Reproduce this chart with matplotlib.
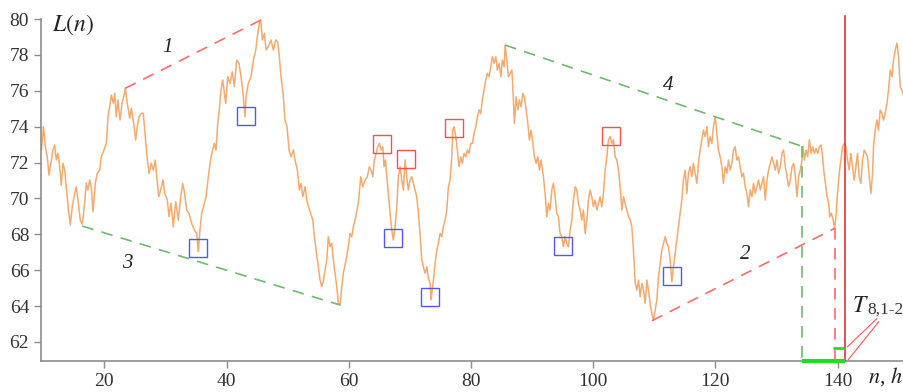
import matplotlib
matplotlib.use('Agg')
import matplotlib.pyplot as plt

# level trace L(n), hours n
hours = [9.72, 10.05, 10.34, 10.67, 10.95, 11.33, 11.60, 11.88, 12.14, 12.42, 12.70, 12.96,
         13.24, 13.52, 13.78, 14.17, 14.44, 14.76, 15.16, 15.42, 15.70, 16.07, 16.40, 16.79,
         17.05, 17.33, 17.61, 17.87, 18.15, 18.53, 18.85, 19.25, 19.51, 19.95, 20.33, 20.61,
         20.88, 21.15, 21.47, 21.70, 21.96, 22.24, 22.57, 22.90, 23.18, 23.44, 23.76, 24.16,
         24.42, 24.81, 25.14, 25.40, 25.68, 26.06, 26.38, 26.61, 26.99, 27.32, 27.69, 28.02,
         28.35, 28.58, 28.90, 29.23, 29.61, 29.89, 30.31,
         30.59, 30.92, 31.29, 31.69, 32.11, 32.50, 32.83, 33.09, 33.49, 33.86, 34.30, 34.73,
         35.12, 35.38, 35.66, 35.94, 36.37, 36.65, 37.02, 37.46, 37.74, 38.00, 38.28, 38.56,
         38.82, 39.10, 39.38, 39.64, 39.87, 40.20, 40.57, 40.95, 41.28, 41.67, 42.05, 42.37,
         42.65, 43.03, 43.19, 43.57, 44.01, 44.39, 44.78, 45.11, 45.37, 45.60, 45.86, 46.19,
         46.47, 46.84, 47.28, 47.66, 48.05, 48.38, 48.64, 48.92, 49.30, 49.57, 49.90, 50.23,
         50.56, 50.93, 51.21,
         51.59, 51.91, 52.19, 52.47, 52.85, 53.13, 53.39, 53.78, 54.11, 54.33, 54.65, 55.03,
         55.30, 55.58, 55.84, 56.12, 56.40, 56.66, 56.94, 57.22, 57.48, 57.76, 58.04, 58.30,
         58.58, 58.85, 59.12, 59.56, 59.93, 60.21, 60.49, 60.75, 61.15, 61.57, 61.96, 62.29,
         62.67, 63.04, 63.37, 63.65, 63.93, 64.19, 64.47, 64.75, 65.01, 65.29, 65.57, 65.78,
         66.00, 66.23, 66.48, 66.76, 67.04, 67.30, 67.58, 67.86, 68.12, 68.40, 68.67, 68.94,
         69.21, 69.49, 69.75, 70.03, 70.31, 70.57, 70.85,
         71.13, 71.39, 71.67, 71.95, 72.21, 72.49, 72.77, 73.03, 73.31, 73.47, 73.85, 74.13,
         74.41, 74.67, 74.95, 75.22, 75.48, 75.76, 76.04, 76.30, 76.58, 76.86, 77.02, 77.23,
         77.51, 77.77, 78.05, 78.33, 78.59, 78.87, 79.15, 79.41, 79.69, 79.97, 80.23, 80.51,
         80.79, 81.05, 81.33, 81.60, 81.87, 82.14, 82.42, 82.68, 82.96, 83.24, 83.50, 83.78,
         84.06, 84.32, 84.60, 84.88, 85.14, 85.42, 85.58, 85.86, 86.12, 86.40, 86.68, 86.84,
         87.10, 87.38, 87.66, 87.92, 88.20, 88.48, 88.74, 89.02, 89.30, 89.56, 89.84, 90.12,
         90.38, 90.66, 90.93, 91.19,
         91.47, 91.85, 92.13, 92.40, 92.67, 92.95, 93.22, 93.49, 93.77, 94.04, 94.30, 94.58,
         94.86, 95.12, 95.40, 95.68, 95.94, 96.22, 96.50, 96.76, 97.04, 97.32, 97.58, 97.86,
         98.14, 98.40, 98.68, 98.96, 99.22, 99.49, 99.77, 100.03, 100.31, 100.59, 100.85, 101.13,
         101.41, 101.67, 101.95, 102.23, 102.49, 102.77, 103.05, 103.31, 103.59, 103.87, 104.13,
         104.41, 104.69, 104.95, 105.22, 105.50, 105.77, 106.05, 106.32, 106.59, 106.87, 107.14,
         107.41, 107.68, 107.96, 108.22, 108.50, 108.78, 109.04, 109.31, 109.59, 109.86, 110.14,
         110.41, 110.68, 110.96, 111.23, 111.50, 111.78,
         112.04, 112.31, 112.59, 112.87, 113.13, 113.40, 113.68, 113.95, 114.22, 114.50, 114.76,
         115.04, 115.32, 115.58, 115.86, 116.14, 116.40, 116.68, 116.96, 117.22, 117.49, 117.77,
         118.04, 118.31, 118.59, 118.85, 119.13, 119.41, 119.67, 119.95, 120.23, 120.49, 120.77,
         121.05, 121.31, 121.59, 121.87, 122.13, 122.41, 122.69, 122.95, 123.23, 123.51, 123.77,
         124.05, 124.33, 124.59, 124.87, 125.15, 125.41, 125.69, 125.97, 126.23, 126.51, 126.79,
         127.05, 127.33, 127.61, 127.87, 128.15, 128.43, 128.69, 128.97, 129.25, 129.51, 129.79,
         130.07, 130.33, 130.61, 130.89, 131.15, 131.43, 131.71, 131.97, 132.25, 132.53, 132.79,
         133.06, 133.34, 133.61, 133.88, 134.16, 134.33,
         134.55, 134.83, 135.09, 135.37, 135.65, 135.91, 136.19, 136.47, 136.73, 137.01, 137.29,
         137.55, 137.71, 137.99, 138.27, 138.53, 138.69, 138.97, 139.25, 139.51, 139.76, 139.97,
         140.25, 140.53, 140.79, 141.07, 141.35, 141.61, 141.88, 142.16, 142.42, 142.70, 142.98,
         143.24, 143.52, 143.80, 144.06, 144.34, 144.62, 144.88, 145.16, 145.44, 145.70, 145.86,
         146.14, 146.42, 146.68, 146.96, 147.24, 147.50, 147.78, 148.06, 148.32, 148.60, 148.88,
         149.14, 149.42, 149.69, 149.96, 150.23, 150.51, 150.84]

level = [72.70, 74.00, 72.88, 72.32, 71.30, 72.14, 72.70, 72.98, 72.14, 72.51, 71.77, 70.75,
         71.96, 71.58, 70.58, 69.26, 68.52, 69.54, 70.30, 70.65, 69.91, 68.80, 68.56, 69.74,
         70.85, 70.47, 71.03, 70.65, 69.26, 70.84, 71.40, 71.58, 72.32, 72.70, 73.07, 74.55,
         75.11, 75.76, 75.30, 75.86, 74.55, 75.49, 74.37, 75.30, 75.67, 76.14, 75.30, 74.47,
         75.02, 74.19, 73.26, 74.00, 74.55, 74.74, 74.74, 73.81, 72.32, 71.40, 71.96, 71.58,
         72.14, 71.21, 70.09, 70.47, 71.03, 70.28, 69.91,
         68.98, 69.73, 68.42, 69.82, 68.80, 70.09, 70.84, 70.37, 69.35, 69.17, 68.61, 68.24,
         68.05, 67.03, 68.24, 69.17, 69.73, 70.09, 71.21, 72.32, 72.70, 73.07, 72.70, 74.19,
         74.93, 76.04, 76.60, 75.86, 75.30, 76.78, 76.42, 77.06, 76.23, 77.71, 77.53, 76.78,
         76.04, 74.55, 75.67, 76.42, 76.78, 77.71, 78.27, 79.20, 79.76, 79.94, 78.83, 79.20,
         78.27, 78.46, 78.83, 78.27, 78.83, 78.73, 77.90, 76.78, 75.67, 74.37, 74.00, 72.70,
         72.32, 72.70, 72.14,
         71.58, 70.47, 70.84, 70.09, 70.65, 69.91, 69.54, 69.17, 68.80, 68.05, 67.12, 66.19,
         65.45, 65.08, 65.36, 66.01, 66.57, 67.87, 67.31, 67.50, 66.57, 65.83, 65.08, 64.15,
         64.06, 65.08, 65.83, 66.57, 67.31, 68.05, 67.87, 68.42, 68.98, 69.73, 71.21, 70.65,
         71.03, 71.21, 71.77, 71.58, 71.21, 72.14, 72.51, 72.88, 73.07, 72.70, 72.88, 71.77,
         72.14, 71.21, 70.28, 69.17, 68.24, 67.68, 68.42, 69.54, 71.21, 71.77, 71.03, 70.47,
         72.14, 71.21, 70.47, 71.03, 71.21, 70.84, 70.47,
         70.09, 69.17, 68.05, 66.57, 66.19, 65.83, 66.19, 65.55, 65.27, 64.34, 65.45, 66.38,
         67.12, 67.50, 68.05, 67.87, 68.42, 68.80, 69.35, 70.65, 71.03, 72.32, 73.81, 74.00,
         73.44, 72.70, 71.77, 72.32, 71.96, 72.51, 72.32, 72.70, 72.51, 73.07, 73.07, 73.63,
         74.00, 74.55, 74.93, 74.74, 75.49, 76.04, 76.60, 76.97, 76.78, 77.34, 77.90, 77.53,
         77.90, 77.16, 77.53, 76.78, 77.71, 77.34, 78.55, 77.71, 76.78, 76.97, 77.16, 76.23,
         74.19, 75.67, 74.93, 75.49, 75.11, 75.86, 75.67, 74.93, 74.19, 73.26, 73.81, 73.07,
         72.32, 71.96, 72.32, 71.58,
         72.14, 71.21, 70.28, 68.98, 69.73, 69.35, 70.47, 70.84, 70.09, 69.17, 68.98, 68.05,
         67.87, 67.31, 67.87, 67.50, 67.31, 68.24, 68.80, 69.91, 70.65, 70.47, 69.73, 69.35,
         68.80, 69.35, 68.05, 68.80, 69.91, 70.47, 70.09, 69.54, 69.91, 69.35, 69.73, 70.09,
         69.54, 70.28, 71.58, 72.32, 73.26, 73.44, 73.07, 73.26, 72.32, 72.14, 71.58,
         70.65, 69.35, 70.09, 69.73, 69.35, 68.98, 68.80, 68.42, 67.12, 65.27, 64.89,
         65.45, 64.52, 65.27, 64.89, 64.15, 65.45, 64.89, 64.15, 63.60, 63.22, 63.78,
         64.34, 65.64, 66.38, 67.12, 67.50, 67.87,
         67.50, 67.31, 66.57, 65.35, 66.19, 66.94, 67.68, 68.42, 69.17, 69.91, 71.03,
         71.58, 70.28, 71.40, 71.77, 71.21, 71.96, 71.40, 70.84, 71.96, 72.70, 73.26,
         73.81, 73.44, 74.00, 72.88, 73.44, 73.07, 74.00, 74.55, 73.63, 72.70, 72.32,
         71.77, 70.84, 71.77, 71.40, 72.14, 71.58, 71.96, 72.70, 72.88, 72.14, 72.32,
         71.77, 71.21, 71.40, 70.65, 70.28, 69.54, 70.47, 70.09, 70.84, 70.28, 70.65,
         71.03, 70.47, 70.84, 71.21, 69.91, 71.03, 71.58, 71.96, 72.32, 71.96, 71.58,
         72.14, 71.40, 71.77, 72.51, 72.70, 71.77, 71.21, 70.65, 71.03, 71.77, 71.96,
         71.30, 70.09, 71.21, 71.58, 72.14, 72.90,
         72.14, 72.70, 72.32, 73.26, 72.51, 72.88, 72.51, 72.79, 72.51, 72.88, 72.98,
         72.32, 71.58, 70.84, 70.09, 69.73, 68.98, 69.17, 68.80, 68.33, 69.17, 70.28,
         71.40, 72.14, 72.88, 73.07, 72.88, 72.14, 71.58, 72.51, 71.77, 71.03, 71.77,
         72.51, 71.21, 70.84, 72.14, 72.70, 72.51, 72.32, 71.21, 70.28, 71.40, 72.88,
         73.81, 74.37, 73.81, 74.93, 74.74, 74.37, 74.74, 75.30, 76.04, 77.16, 76.78,
         77.71, 78.27, 78.65, 77.90, 76.23, 76.04, 75.67]

# trend lines: (n start, L start, n end, L end)
trend_1 = (23.44, 76.14, 45.60, 79.94)
trend_2 = (109.59, 63.18, 139.51, 68.33)
trend_3 = (16.40, 68.46, 58.58, 64.06)
trend_4 = (85.58, 78.55, 134.2, 72.9)
trend_labels = ['1', '2', '3', '4']
trend_label_pos = [(30.4, 78.4), (124.9, 66.85), (23.7, 66.4), (112.3, 76.3)]

# local extrema markers
min_n = [35.29, 43.16, 67.22, 73.35, 95.07, 112.87]
min_L = [67.22, 74.62, 67.78, 64.50, 67.33, 65.69]
max_n = [65.40, 69.30, 77.20, 102.85]
max_L = [73.05, 72.18, 73.94, 73.49]

n_now = 141.2          # current moment
y_lo, y_hi = 60.94, 80.0

plt.rcParams['font.family'] = ['Liberation Serif', 'DejaVu Serif']

fig = plt.figure(figsize=(9.04, 3.92), dpi=100)
ax = fig.add_axes([0.0454, 0.0791, 0.9546, 0.8724])

ax.plot(hours, level, color='#f4a15c', lw=1.1, alpha=0.9, zorder=2)

red_dash = dict(color='#ff6b6b', lw=1.2, dashes=(7, 5))
green_dash = dict(color='#6dbb6d', lw=1.2, dashes=(7, 5))
for tr, st in [(trend_1, red_dash), (trend_2, red_dash), (trend_3, green_dash), (trend_4, green_dash)]:
    ax.plot([tr[0], tr[2]], [tr[1], tr[3]], zorder=3, **st)
for lab, (tx, ty) in zip(trend_labels, trend_label_pos):
    ax.text(tx, ty, lab, fontsize=15, style='italic', ha='center', va='center', color='#222222')

# drop lines to the time axis
ax.plot([trend_4[2], trend_4[2]], [trend_4[3], y_lo], zorder=3, **green_dash)
ax.plot([trend_2[2], trend_2[2]], [trend_2[3], y_lo], zorder=3, **red_dash)
ax.plot([n_now, n_now], [y_lo, 80.15], color='#ee3030', lw=1.2, zorder=4, clip_on=False)

ax.plot([trend_4[2], n_now], [y_lo, y_lo], color='#22dd22', lw=3, zorder=5, clip_on=False, solid_capstyle='butt')
ax.plot([trend_2[2] - 0.2, n_now], [61.68, 61.68], color='#22dd22', lw=2, zorder=5, solid_capstyle='butt')

ax.plot(min_n, min_L, ls='none', marker='s', ms=13, mfc='none', mec='#5555ff', mew=1.0, zorder=4)
ax.plot(max_n, max_L, ls='none', marker='s', ms=13, mfc='none', mec='#ff4d4d', mew=1.0, zorder=4)

# T label with leaders
ax.plot([146.4, 141.6], [63.3, 61.73], color='#ff5555', lw=0.8, zorder=4)
ax.plot([146.7, 141.7], [63.12, 61.0], color='#ff5555', lw=0.8, zorder=4)
ax.text(143.8, 63.95, r'$T$', fontsize=17, ha='center', va='center', color='#222222',
        math_fontfamily='stix')
ax.text(144.9, 63.8, '8,1-2', fontsize=12.5, ha='left', va='center', color='#333333')

ax.text(14.8, 79.7, r'$L(n)$', fontsize=17, ha='center', va='center', color='#222222',
        math_fontfamily='stix', clip_on=False)
ax.text(147.8, 60.1, r'$n$, $h$', fontsize=16, ha='center', va='center', color='#222222',
        math_fontfamily='stix', clip_on=False)

ax.set_xlim(9.65, 150.85)
ax.set_ylim(y_lo, y_hi)
ax.set_xticks(range(20, 141, 20))
ax.set_yticks(range(62, 81, 2))
for s in ['top', 'right']:
    ax.spines[s].set_visible(False)
for s in ['left', 'bottom']:
    ax.spines[s].set_color('#8c8c8c')
    ax.spines[s].set_linewidth(1.2)
ax.tick_params(colors='#8c8c8c', labelcolor='#333333', labelsize=14, length=5, width=1)

fig.savefig('out.png', dpi=100)
